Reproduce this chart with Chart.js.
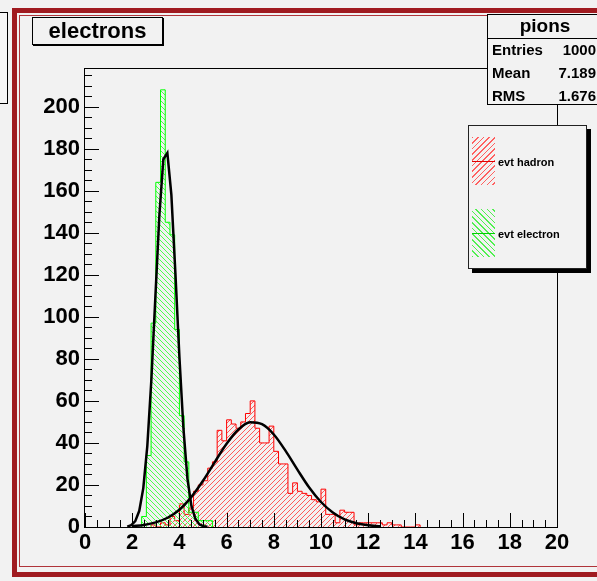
<!DOCTYPE html>
<html>
<head>
<meta charset="utf-8">
<script src="https://cdn.jsdelivr.net/npm/chart.js@4.4.1/dist/chart.umd.min.js"></script>
<style>
  body { margin: 0; background: #f2f2f2; }
  #pad { position: relative; width: 597px; height: 581px; overflow: hidden; background: #f2f2f2;
         font-family: "Liberation Sans", Arial, Helvetica, sans-serif; color: #000; }
  #hist { position: absolute; left: 0; top: 0; }
  .abs { position: absolute; box-sizing: border-box; }
  .box { background: #f2f2f2; border: 1px solid #000; }
  #leftBox { left: -2px; top: 12px; width: 10px; height: 92px; background: #f6f6f6; border: 1px solid #000; }
  #padOuter { left: 12px; top: 8px; width: 620px; height: 569px; border: 5px solid #a01b20; }
  #padInner { left: 19px; top: 15px; width: 610px; height: 552px; border: 1px solid #b0343a; }
  #title { left: 32px; top: 17px; width: 131px; height: 28px; box-shadow: 1px 1px 0 #000;
           font-weight: bold; font-size: 22px; text-align: center; line-height: 26px; }
  #stats { left: 487px; top: 14px; width: 116px; height: 91px; }
  #stats .head { position: absolute; left: 0; top: 0; width: 100%; height: 23px; border-bottom: 1px solid #000;
                 font-weight: bold; font-size: 19px; text-align: center; line-height: 22px; }
  #stats .row { position: absolute; left: 4px; right: 6px; height: 20px; font-weight: bold; font-size: 15px; line-height: 20px; }
  #stats .row span:last-child { position: absolute; right: 0; }
  #legend { left: 468px; top: 125px; width: 119px; height: 144px; border-color: #222; box-shadow: 4px 4px 0 #000; }
  .swatch { position: absolute; left: 3px; width: 23px; height: 48px; }
  .swatch i { position: absolute; left: 0; right: 0; top: 24px; height: 1px; }
  .lbl { position: absolute; left: 29px; font-weight: bold; font-size: 11px; line-height: 12px; }
</style>
</head>
<body>
<div id="pad">
  <canvas id="hist" width="597" height="581"></canvas>
  <div id="leftBox" class="abs"></div>
  <div id="padOuter" class="abs"></div>
  <div id="padInner" class="abs"></div>
  <div id="title" class="abs box">electrons</div>
  <div id="stats" class="abs box">
    <div class="head">pions</div>
    <div class="row" style="top:25px"><span>Entries</span><span>1000</span></div>
    <div class="row" style="top:48px"><span>Mean</span><span>7.189</span></div>
    <div class="row" style="top:71px"><span>RMS</span><span>1.676</span></div>
  </div>
  <div id="legend" class="abs box">
    <div class="swatch" style="top:11px;background:repeating-linear-gradient(135deg,#ff6060 0 1px,transparent 1px 4px)"><i style="background:#e00000"></i></div>
    <div class="lbl" style="top:30px">evt hadron</div>
    <div class="swatch" style="top:83px;background:repeating-linear-gradient(45deg,#50f050 0 1px,transparent 1px 4px)"><i style="background:#00d000"></i></div>
    <div class="lbl" style="top:102px">evt electron</div>
  </div>
</div>
<script>
// 100 bins of 0.2 between 0 and 20
const BIN_WIDTH = 0.2;
const X_MIN = 0, X_MAX = 20;
const Y_MIN = 0, Y_MAX = 218.4;
const X_TICKS = [0, 2, 4, 6, 8, 10, 12, 14, 16, 18, 20];
const Y_TICKS = [0, 20, 40, 60, 80, 100, 120, 140, 160, 180, 200];
const X_MINOR = 0.5, Y_MINOR = 5;

// electrons: counts from bin 12 (x = 2.4) on
const electronFirstBin = 12;
const electronCounts = [5, 34, 97, 164, 208, 145, 139, 94, 53, 31, 7, 7, 3, 3, 3];

// pions: counts from bin 14 (x = 2.8) on
const pionFirstBin = 14;
const pionCounts = [1, 0, 2, 1, 5, 3, 11, 6, 9, 17, 20, 22, 28, 31, 46, 41, 51, 49, 47, 50,
  54, 60, 47, 40, 40, 48, 36, 30, 30, 16, 21, 17, 16, 15, 13, 12, 18, 6, 6, 2,
  8, 7, 7, 1, 2, 2, 2, 2, 2, 1, 2, 1, 1, 0, 0, 0, 1];

// gaussian fit curves as drawn (polyline points)
const electronFitX = [1.79, 1.96, 2.13, 2.30, 2.47, 2.64, 2.81, 2.98, 3.15, 3.32, 3.49,
  3.66, 3.83, 4.00, 4.17, 4.34, 4.51, 4.68, 4.85, 5.02, 5.19];
const electronFitY = [0.2, 0.9, 2.8, 7.7, 18.5, 38.5, 69.7, 109, 148, 175, 178,
  158, 121, 81, 47, 23, 10, 3.8, 1.2, 0.4, 0.1];
const pionFitX = [2.0, 2.5, 3.0, 3.5, 4.0, 4.5, 5.0, 5.5, 6.0, 6.5, 7.0,
  7.5, 8.0, 8.5, 9.0, 9.5, 10.0, 10.5, 11.0, 11.5, 12.0, 12.5];
const pionFitY = [0.4, 1.0, 2.2, 4.4, 8.2, 14.2, 22.0, 30.9, 39.6, 46.4, 49.8,
  48.9, 44.0, 36.2, 27.3, 18.8, 11.9, 6.9, 3.6, 1.8, 0.8, 0.3];

function histPoints(first, counts) {
  const pts = [{ x: first * BIN_WIDTH, y: 0 }];
  counts.forEach((c, i) => pts.push({ x: (first + i) * BIN_WIDTH, y: c }));
  pts.push({ x: (first + counts.length) * BIN_WIDTH, y: 0 });
  return pts;
}

function curvePoints(xs, ys) {
  return xs.map((x, i) => ({ x: x, y: ys[i] }));
}

const canvas = document.getElementById('hist');
const ctx = canvas.getContext('2d');

// pixel diagonal hatch, dir 1 = "/", dir -1 = "\"
function hatch(color, dir) {
  const n = 5;
  const tile = document.createElement('canvas');
  tile.width = tile.height = n;
  const g = tile.getContext('2d');
  g.fillStyle = color;
  for (let i = 0; i < n; i++) {
    g.fillRect(i, dir > 0 ? n - 1 - i : i, 1, 1);
  }
  return g.createPattern(tile, 'repeat');
}

const redHatch = hatch('#ff5a5a', 1);
const greenHatch = hatch('#4cff4c', -1);

// frame and inward ticks drawn over the histograms
const frameTicks = {
  id: 'frameTicks',
  afterDatasetsDraw(chart) {
    const { ctx, chartArea: a, scales: { x, y } } = chart;
    ctx.save();
    ctx.strokeStyle = '#000';
    ctx.lineWidth = 1;
    ctx.beginPath();
    for (let v = X_MIN; v <= X_MAX + 1e-6; v += X_MINOR) {
      const px = Math.round(x.getPixelForValue(v)) + 0.5;
      const len = X_TICKS.includes(v) ? 14 : 7;
      ctx.moveTo(px, a.bottom);
      ctx.lineTo(px, a.bottom - len);
    }
    for (let v = Y_MIN; v <= Y_MAX; v += Y_MINOR) {
      const py = Math.round(y.getPixelForValue(v)) + 0.5;
      const len = Y_TICKS.includes(v) ? 14 : 7;
      ctx.moveTo(a.left, py);
      ctx.lineTo(a.left + len, py);
    }
    ctx.stroke();
    ctx.strokeRect(Math.round(a.left) - 0.5, Math.round(a.top) + 0.5,
      Math.round(a.right - a.left) + 1, Math.round(a.bottom - a.top));
    ctx.restore();
  }
};

const tickFont = { family: '"Liberation Sans", Arial, sans-serif', size: 22, weight: 'bold' };

new Chart(ctx, {
  type: 'scatter',
  data: {
    datasets: [
      {
        label: 'pion fit', data: curvePoints(pionFitX, pionFitY), showLine: true,
        borderColor: '#000', borderWidth: 2.5, pointRadius: 0, fill: false,
        cubicInterpolationMode: 'monotone'
      },
      {
        label: 'electron fit', data: curvePoints(electronFitX, electronFitY), showLine: true,
        borderColor: '#000', borderWidth: 2.5, pointRadius: 0, fill: false, tension: 0
      },
      {
        label: 'evt electron', data: histPoints(electronFirstBin, electronCounts), showLine: true,
        stepped: 'before', borderColor: '#00ff00', borderWidth: 1, pointRadius: 0,
        fill: 'origin', backgroundColor: () => greenHatch
      },
      {
        label: 'evt hadron', data: histPoints(pionFirstBin, pionCounts), showLine: true,
        stepped: 'before', borderColor: '#ff0000', borderWidth: 1, pointRadius: 0,
        fill: 'origin', backgroundColor: () => redHatch
      }
    ]
  },
  options: {
    responsive: false,
    animation: false,
    events: [],
    layout: { padding: { top: 68, right: 40, left: 0, bottom: 0 } },
    plugins: { legend: { display: false }, tooltip: { enabled: false } },
    scales: {
      x: {
        type: 'linear', min: X_MIN, max: X_MAX,
        grid: { display: false, drawTicks: false },
        border: { display: false },
        ticks: { font: tickFont, color: '#000', padding: 3, maxRotation: 0, autoSkip: false },
        afterBuildTicks: s => { s.ticks = X_TICKS.map(v => ({ value: v })); },
        afterFit: s => { s.height = 54; }
      },
      y: {
        type: 'linear', min: Y_MIN, max: Y_MAX,
        grid: { display: false, drawTicks: false },
        border: { display: false },
        ticks: { font: tickFont, color: '#000', padding: 5, autoSkip: false },
        afterBuildTicks: s => { s.ticks = Y_TICKS.map(v => ({ value: v })); },
        afterFit: s => { s.width = 85; }
      }
    }
  },
  plugins: [frameTicks]
});
</script>
</body>
</html>
